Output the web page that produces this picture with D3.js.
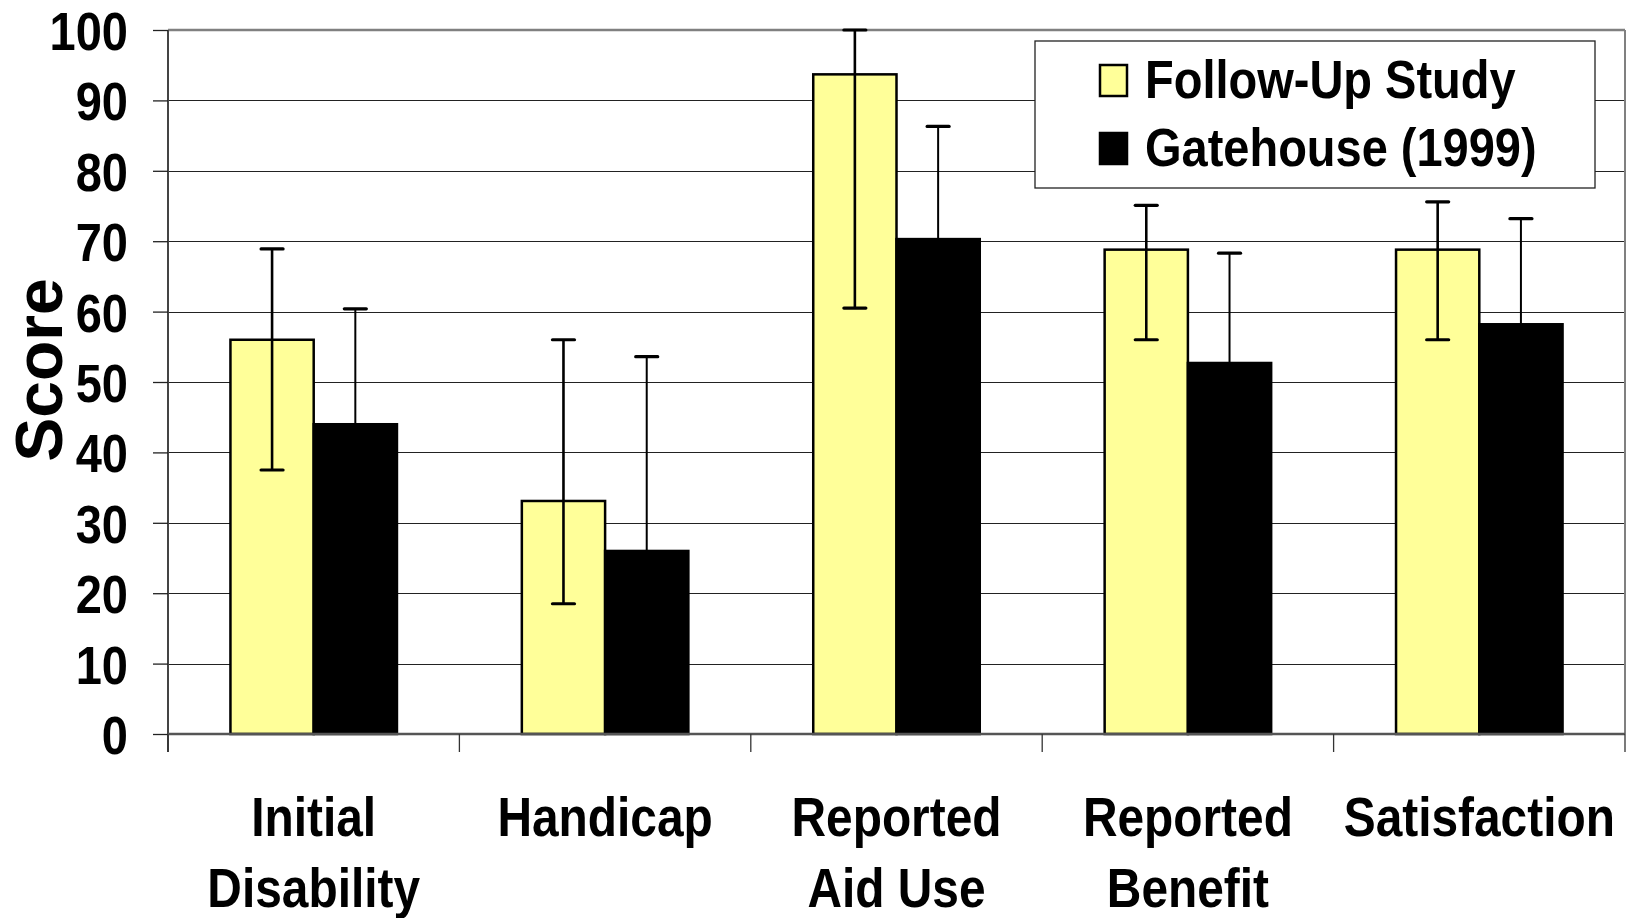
<!DOCTYPE html>
<html>
<head>
<meta charset="utf-8">
<script src="https://cdn.jsdelivr.net/npm/d3@7/dist/d3.min.js"></script>
<style>
  html, body { margin: 0; padding: 0; background: #fff; }
  svg { display: block; }
  text { font-family: "Liberation Sans", Arial, sans-serif; font-weight: bold; fill: #000; }
</style>
</head>
<body>
<svg id="chart" width="1634" height="918"></svg>
<script>
// ---- data ----
const categories = [["Initial", "Disability"], ["Handicap"], ["Reported", "Aid Use"], ["Reported", "Benefit"], ["Satisfaction"]];
const seriesNames = ["Follow-Up Study", "Gatehouse (1999)"];
const followUp      = [56.0, 33.1, 93.7, 68.8, 68.8];
const followUpHigh  = [68.9, 56.0, 100.0, 75.1, 75.6];
const followUpLow   = [37.5, 18.5, 60.5, 56.0, 56.0];
const gatehouse     = [44.0, 26.0, 70.3, 52.7, 58.2];
const gatehouseHigh = [60.4, 53.6, 86.3, 68.3, 73.2];
const gatehouseLow  = [27.6, 1.5, 54.3, 37.1, 43.2];
const yTicks = [0, 10, 20, 30, 40, 50, 60, 70, 80, 90, 100];

const seriesColors = ["#FFFF99", "#000000"];
const series = [
  { name: seriesNames[0], values: followUp, hi: followUpHigh, lo: followUpLow, color: seriesColors[0], errW: 2.6 },
  { name: seriesNames[1], values: gatehouse, hi: gatehouseHigh, lo: gatehouseLow, color: seriesColors[1], errW: 2.0 }
];

// ---- layout ----
const pLeft = 168, pRight = 1625, pTop = 30, pBottom = 734;
const SQ = 0.87; // horizontal condensation of text
const svg = d3.select("#chart");

const x0 = d3.scaleBand().domain(d3.range(categories.length)).range([pLeft, pRight]).paddingInner(0).paddingOuter(0);
// Excel gap width 150%: group = band * 2/(2+1.5)
const groupW = x0.bandwidth() * 2 / 3.5;
const x1 = d3.scaleBand().domain(d3.range(series.length)).range([0, groupW]).padding(0);
const groupOffset = (x0.bandwidth() - groupW) / 2;
const y = d3.scaleLinear().domain([0, 100]).range([pBottom, pTop]);

// gridlines
svg.append("g").selectAll("line").data(yTicks.filter(d => d > 0 && d < 100)).join("line")
  .attr("x1", pLeft).attr("x2", pRight)
  .attr("y1", d => Math.round(y(d)) + 0.5).attr("y2", d => Math.round(y(d)) + 0.5)
  .attr("stroke", "#222").attr("stroke-width", 1.1);

// plot area border (top & right, gray)
svg.append("line").attr("x1", pLeft).attr("x2", pRight).attr("y1", y(100)).attr("y2", y(100))
  .attr("stroke", "#808080").attr("stroke-width", 2.5);
svg.append("line").attr("x1", pRight).attr("x2", pRight).attr("y1", y(100)).attr("y2", pBottom)
  .attr("stroke", "#808080").attr("stroke-width", 2);

// bars
const groups = svg.append("g").selectAll("g").data(categories.map((c, i) => i)).join("g")
  .attr("transform", i => `translate(${x0(i) + groupOffset},0)`);

series.forEach((s, si) => {
  groups.append("rect")
    .attr("x", i => x1(si))
    .attr("y", i => y(s.values[i]))
    .attr("width", x1.bandwidth())
    .attr("height", i => y(0) - y(s.values[i]))
    .attr("fill", s.color)
    .attr("stroke", "#000").attr("stroke-width", 2.5);
});

// error bars
series.forEach((s, si) => {
  const cx = i => x1(si) + x1.bandwidth() / 2;
  groups.append("line")
    .attr("x1", cx).attr("x2", cx)
    .attr("y1", i => y(s.hi[i])).attr("y2", i => y(s.lo[i]))
    .attr("stroke", "#000").attr("stroke-width", s.errW);
  [s.hi, s.lo].forEach(arr => {
    groups.append("line")
      .attr("x1", i => cx(i) - 11).attr("x2", i => cx(i) + 11)
      .attr("y1", i => y(arr[i])).attr("y2", i => y(arr[i]))
      .attr("stroke", "#000").attr("stroke-width", 3.2).attr("stroke-linecap", "round");
  });
});

// y axis
const yAxis = svg.append("g").attr("transform", `translate(${pLeft},0)`)
  .call(d3.axisLeft(y).tickValues(yTicks).tickSize(15).tickFormat(""));
yAxis.select(".domain").attr("stroke", "#444").attr("stroke-width", 2)
  .attr("d", `M0,${pTop}V${pBottom + 18}`);
yAxis.selectAll(".tick line").attr("stroke", "#222").attr("stroke-width", 1.3);
yAxis.selectAll(".tick").append("g")
  .attr("transform", `translate(-40,0) scale(${SQ},1)`)
  .append("text").attr("text-anchor", "end").attr("dy", "0.36em")
  .attr("font-size", 54).attr("fill", "#000")
  .text(d => d);

// x axis
const bounds = d3.range(categories.length + 1).map(i => i < categories.length ? x0(i) : x0(i - 1) + x0.bandwidth());
svg.append("line").attr("x1", pLeft).attr("x2", pRight).attr("y1", pBottom).attr("y2", pBottom)
  .attr("stroke", "#555").attr("stroke-width", 2.5);
svg.append("g").selectAll("line").data(bounds).join("line")
  .attr("x1", d => d).attr("x2", d => d).attr("y1", pBottom).attr("y2", pBottom + 18)
  .attr("stroke", "#333").attr("stroke-width", 1.3);

const xl = svg.append("g").selectAll("g").data(categories).join("g")
  .attr("transform", (d, i) => `translate(${x0(i) + x0.bandwidth() / 2},836) scale(${SQ},1)`);
xl.each(function (lines) {
  const g = d3.select(this);
  lines.forEach((ln, k) => {
    g.append("text").attr("text-anchor", "middle").attr("y", k * 71)
      .attr("font-size", 55).text(ln);
  });
});

// y axis title
svg.append("text")
  .attr("transform", "translate(62,370) rotate(-90)")
  .attr("text-anchor", "middle").attr("font-size", 66)
  .text("Score");

// legend
const lg = svg.append("g");
lg.append("rect").attr("x", 1035).attr("y", 41).attr("width", 560).attr("height", 147)
  .attr("fill", "#fff").attr("stroke", "#222").attr("stroke-width", 1.3);
series.forEach((s, si) => {
  const row = lg.append("g").attr("transform", `translate(1099,${64 + si * 68})`);
  row.append("rect").attr("x", 1).attr("y", 1).attr("width", 27).attr("height", 31)
    .attr("fill", s.color).attr("stroke", "#000").attr("stroke-width", 2.5);
  row.append("g").attr("transform", `translate(46,34) scale(${SQ},1)`)
    .append("text").attr("font-size", 54).text(s.name);
});
</script>
</body>
</html>
